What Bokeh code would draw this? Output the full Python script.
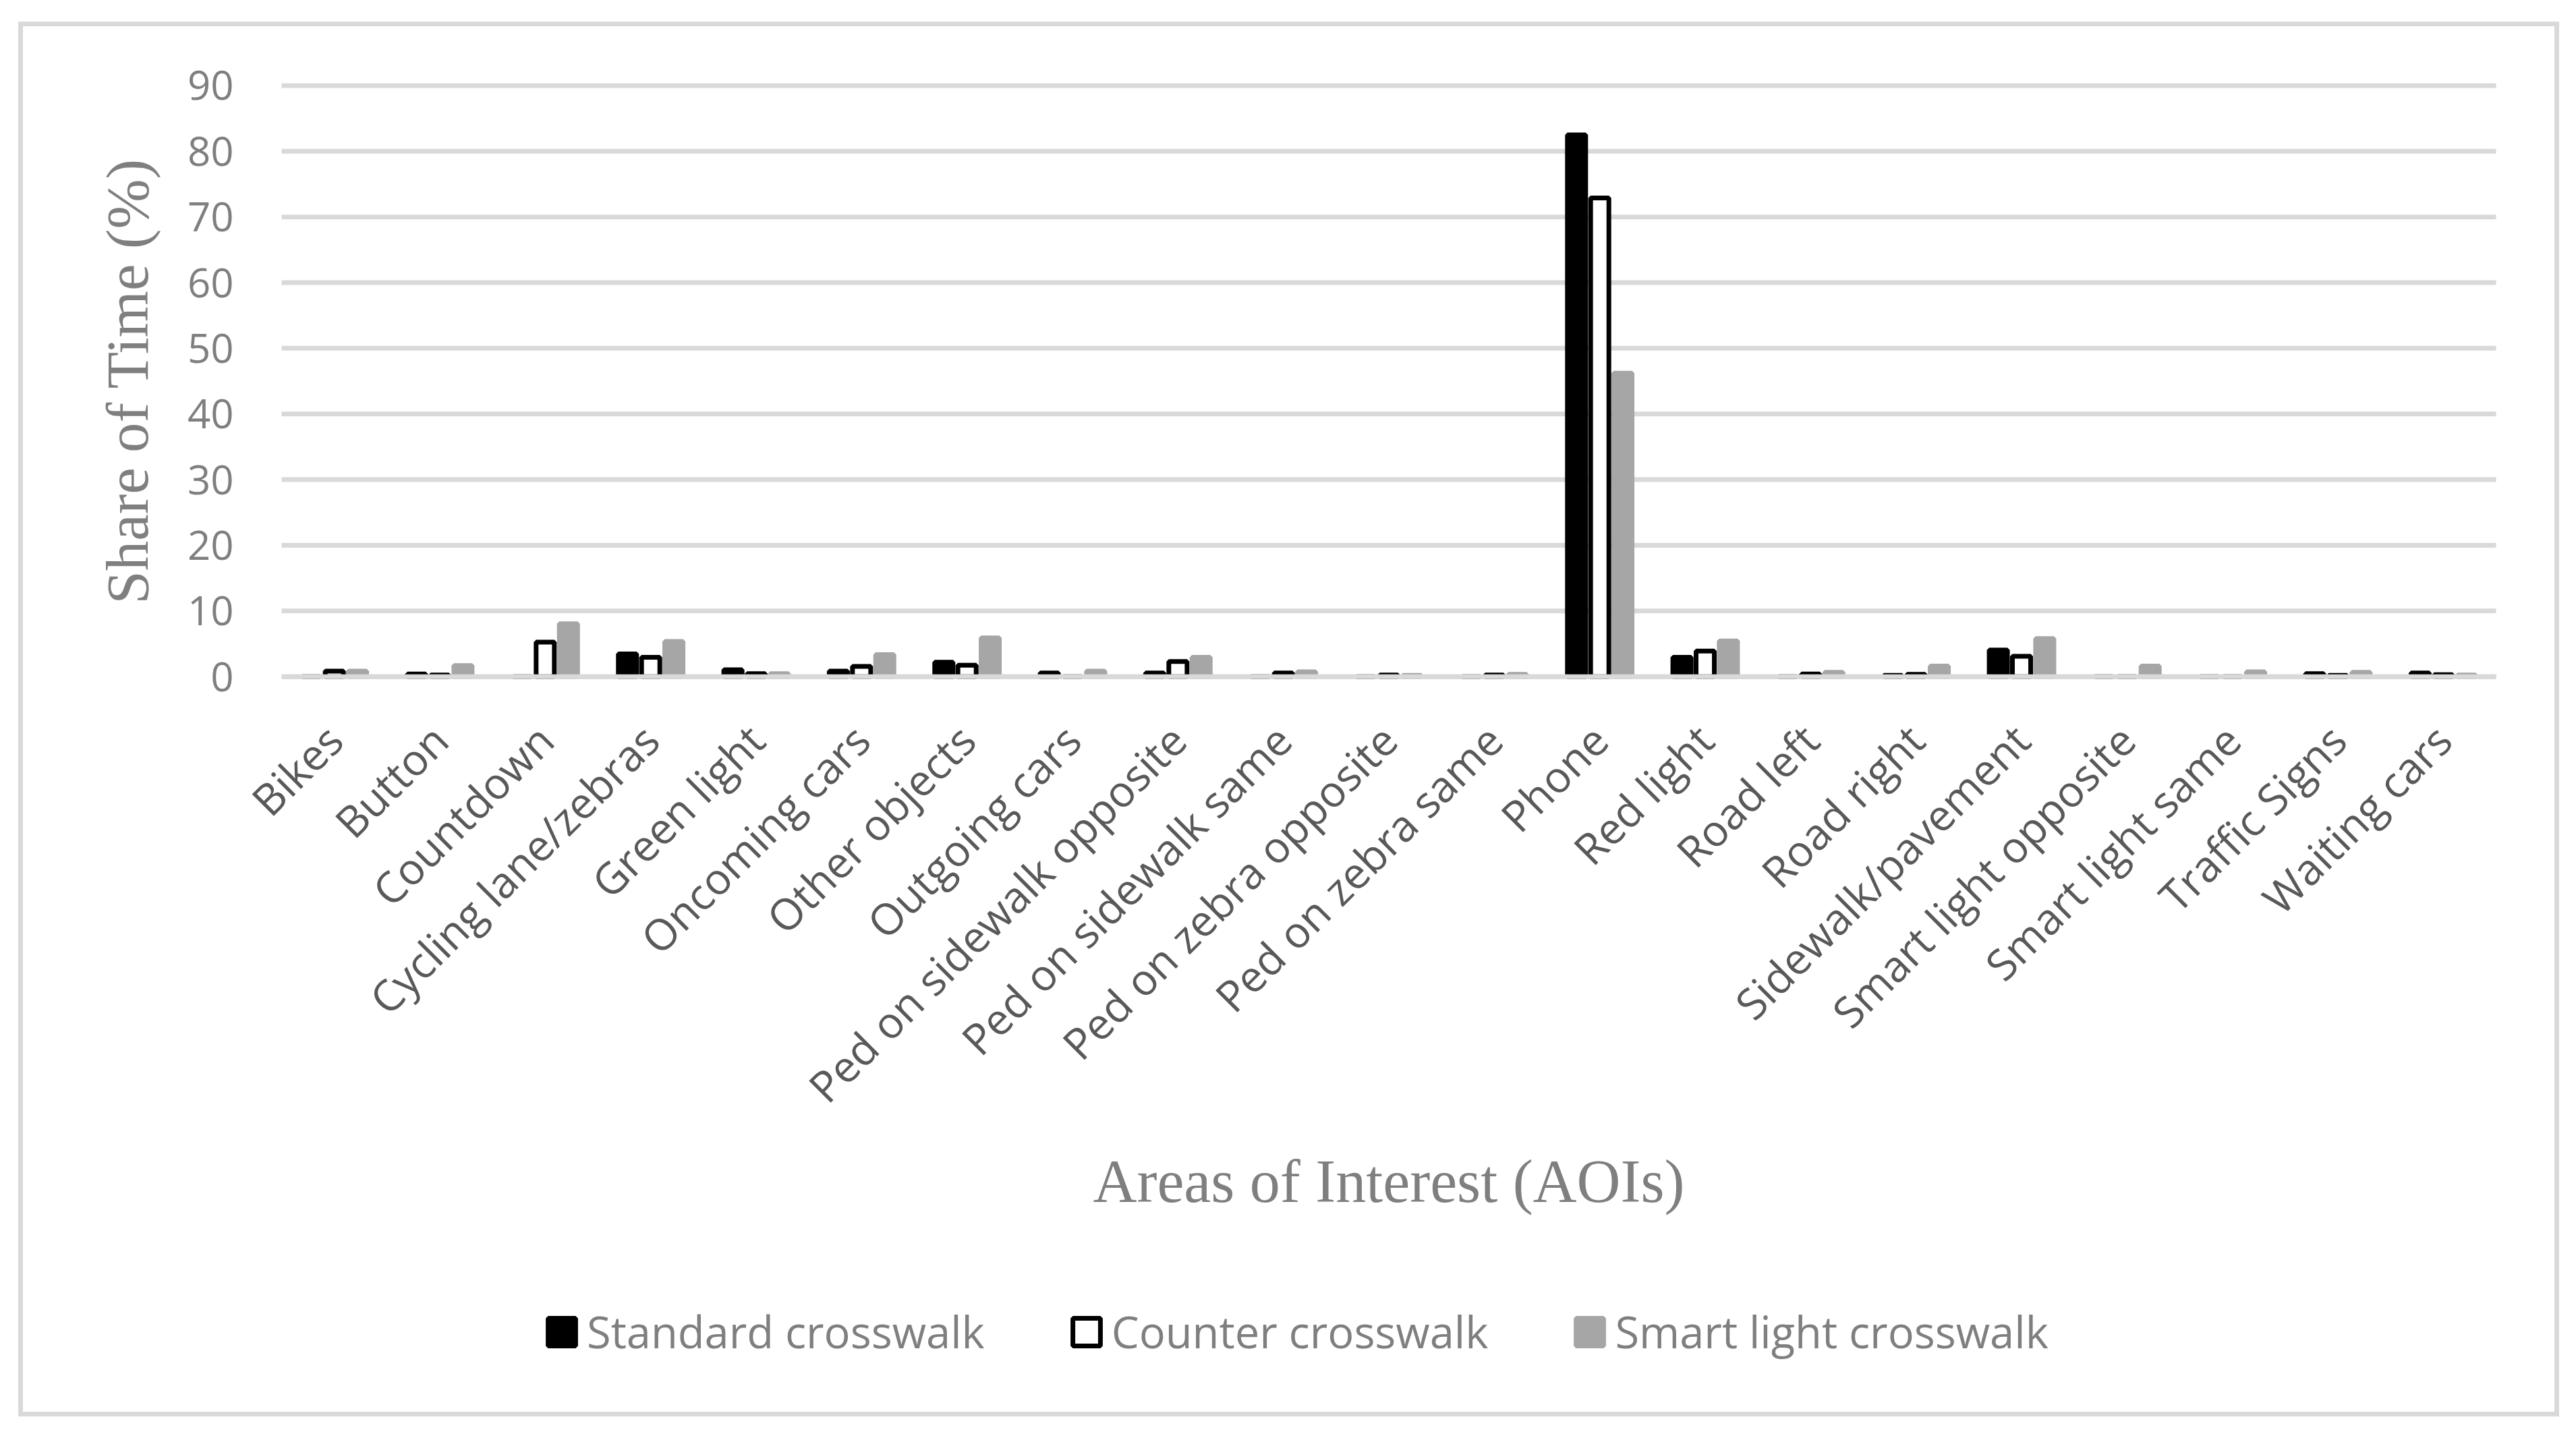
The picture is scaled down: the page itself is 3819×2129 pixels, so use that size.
import math
from bokeh.plotting import figure
from bokeh.models import ColumnDataSource, Range1d, Legend, LegendItem
from bokeh.core.properties import value
from bokeh.transform import dodge
from bokeh.embed import file_html
from bokeh.resources import INLINE

categories = ["Bikes", "Button", "Countdown", "Cycling lane/zebras", "Green light",
              "Oncoming cars", "Other objects", "Outgoing cars", "Ped on sidewalk opposite",
              "Ped on sidewalk same", "Ped on zebra opposite", "Ped on zebra same", "Phone",
              "Red light", "Road left", "Road right", "Sidewalk/pavement",
              "Smart light opposite", "Smart light same", "Traffic Signs", "Waiting cars"]
standard = [0, 0.4, 0, 3.45, 1.05, 0.85, 2.2, 0.55, 0.55, 0, 0, 0, 82.5, 2.95, 0, 0.2,
            4.05, 0, 0, 0.45, 0.55]
counter = [0.85, 0.25, 5.25, 2.95, 0.45, 1.55, 1.75, 0, 2.3, 0.55, 0.25, 0.25, 72.9, 3.9,
           0.4, 0.35, 3.1, 0, 0, 0.2, 0.3]
smart = [0.85, 1.7, 8.05, 5.35, 0.45, 3.35, 5.9, 0.85, 2.95, 0.75, 0.2, 0.35, 46.2, 5.45,
         0.65, 1.6, 5.8, 1.6, 0.75, 0.65, 0.25]
series_names = ["Standard crosswalk", "Counter crosswalk", "Smart light crosswalk"]
y_ticks = [0, 10, 20, 30, 40, 50, 60, 70, 80, 90]
y_title = "Share of Time (%)"
x_title = "Areas of Interest (AOIs)"

n = len(categories)
idx = list(range(n))

# ---- canvas geometry (pixels) ----
W, H = 3811, 2121
PLOT_L, PLOT_R = 417, 3700          # plot-area left/right edge
ZERO_PY, TOP_PY = 1002.7, 126.4     # pixel rows of y=0 and y=90
ppx = (PLOT_R - PLOT_L) / n
ppy = (ZERO_PY - TOP_PY) / (y_ticks[-1] - y_ticks[0])
x_start = -0.5 - PLOT_L / ppx
y_top = ZERO_PY / ppy
y_bot = -(H - ZERO_PY) / ppy

def px_to_x(px):
    return x_start + px / ppx

def py_to_y(py):
    return (ZERO_PY - py) / ppy

GRID = "#D9D9D9"
TICK = "#595959"
TITLE = "#7F7F7F"

strip = "linear-gradient(#D9D9D9,#D9D9D9)"
border_styles = {
    "background-color": "white",
    "background-image": ", ".join([strip] * 4),
    "background-size": "3767px 7px, 3767px 7px, 7px 2068px, 7px 2068px",
    "background-position": "27px 32px, 27px 2093px, 27px 32px, 3787px 32px",
    "background-repeat": "no-repeat",
}

p = figure(x_range=Range1d(x_start, x_start + W / ppx), y_range=Range1d(y_bot, y_top),
           width=W, height=H, output_backend="svg", toolbar_location=None, title=None,
           x_axis_location=None, y_axis_location=None,
           min_border_left=0, min_border_right=0, min_border_top=0, min_border_bottom=0,
           background_fill_color=None, border_fill_color=None)
p.styles = border_styles
p.outline_line_color = None
p.grid.visible = False

src = ColumnDataSource(dict(idx=idx, cat=categories, standard=standard,
                            counter=counter, smart=smart))

# horizontal gridlines
grid_src = ColumnDataSource(dict(y=y_ticks, x0=[-0.5] * len(y_ticks),
                                 x1=[n - 0.5] * len(y_ticks)))
p.segment(x0="x0", x1="x1", y0="y", y1="y", source=grid_src, line_color=GRID,
          line_width=7)

bw = 0.173
r1 = p.vbar(x=dodge("idx", -0.22), top="standard", width=bw, source=src,
            fill_color="black", line_color="black", line_width=7)
r2 = p.vbar(x=dodge("idx", 0.0), top="counter", width=bw, source=src,
            fill_color="white", line_color="black", line_width=7)
r3 = p.vbar(x=dodge("idx", 0.22), top="smart", width=bw, source=src,
            fill_color="#A6A6A6", line_color="#A6A6A6", line_width=7)

# baseline (category axis line) drawn over the bar feet
p.segment(x0=[-0.5], x1=[n - 0.5], y0=[0], y1=[0], line_color=GRID, line_width=7)

# y tick labels
ytl = ColumnDataSource(dict(x=[px_to_x(346)] * len(y_ticks), y=y_ticks,
                            t=[str(v) for v in y_ticks]))
p.text(x="x", y="y", text="t", source=ytl, text_align="right", text_baseline="middle",
       text_font=value("Open Sans"), text_font_size=value("60px"), text_color=TITLE)

# x tick labels (rotated 45 degrees)
xtl = ColumnDataSource(dict(x=[i + 0 / ppx for i in idx], y=[py_to_y(1085)] * n,
                            t=categories))
p.text(x="x", y="y", text="t", source=xtl, angle=math.pi / 4, text_align="right",
       text_baseline="alphabetic", text_font=value("Open Sans"),
       text_font_size=value("64px"), text_color=TICK)

# axis titles
p.text(x=[px_to_x(188)], y=[(y_ticks[0] + y_ticks[-1]) / 2], text=[y_title],
       angle=math.pi / 2, text_align="center", text_baseline="middle",
       text_font=value("Liberation Serif"), text_font_size=value("89px"),
       text_color=TITLE)
p.text(x=[(n - 1) / 2], y=[py_to_y(1751)], text=[x_title], text_align="center",
       text_baseline="middle", text_font=value("Liberation Serif"),
       text_font_size=value("90px"), text_color=TITLE)

legend = Legend(items=[LegendItem(label=series_names[0], renderers=[r1]),
                       LegendItem(label=series_names[1], renderers=[r2]),
                       LegendItem(label=series_names[2], renderers=[r3])],
                orientation="horizontal", location=(807, 103),
                glyph_width=51, glyph_height=51, label_standoff=12, spacing=125,
                padding=0, margin=0, border_line_color=None, background_fill_alpha=0,
                label_text_font="Open Sans", label_text_font_size="65px",
                label_text_color=TITLE)
p.add_layout(legend)

open("out.html", "w").write(file_html(p, INLINE))
